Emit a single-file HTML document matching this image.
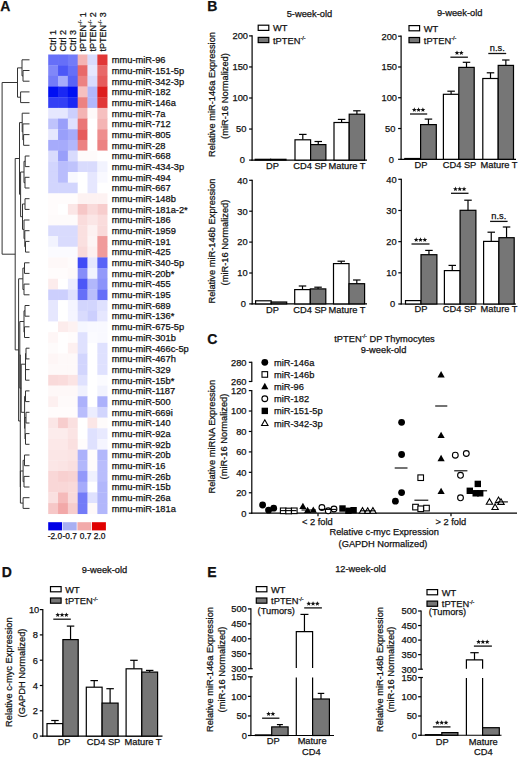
<!DOCTYPE html>
<html><head><meta charset="utf-8"><style>
html,body{margin:0;padding:0;background:#fff;}
body{width:520px;height:757px;overflow:hidden;}
svg{display:block;}
text{font-family:"Liberation Sans",sans-serif;fill:#111;stroke:#111;stroke-width:0.25px;}
</style></head><body>
<svg width="520" height="757" viewBox="0 0 520 757">
<rect width="520" height="757" fill="#fff"/>
<text x="0.20" y="10.80" font-size="14" text-anchor="start" font-weight="bold">A</text>
<text x="207.20" y="10.80" font-size="14" text-anchor="start" font-weight="bold">B</text>
<text x="207.20" y="343.80" font-size="14" text-anchor="start" font-weight="bold">C</text>
<text x="1.80" y="577.30" font-size="14" text-anchor="start" font-weight="bold">D</text>
<text x="207.20" y="577.00" font-size="14" text-anchor="start" font-weight="bold">E</text>
<rect x="48.20" y="54.50" width="10.13" height="10.98" fill="#666ff8"/>
<rect x="58.03" y="54.50" width="10.13" height="10.98" fill="#666ff8"/>
<rect x="67.86" y="54.50" width="10.13" height="10.98" fill="#737bf8"/>
<rect x="77.69" y="54.50" width="10.13" height="10.98" fill="#f4b4b4"/>
<rect x="87.52" y="54.50" width="10.13" height="10.98" fill="#d9dbfd"/>
<rect x="97.35" y="54.50" width="10.13" height="10.98" fill="#e13737"/>
<rect x="48.20" y="65.18" width="10.13" height="10.98" fill="#8087f9"/>
<rect x="58.03" y="65.18" width="10.13" height="10.98" fill="#4c57f7"/>
<rect x="67.86" y="65.18" width="10.13" height="10.98" fill="#666ff8"/>
<rect x="77.69" y="65.18" width="10.13" height="10.98" fill="#e86969"/>
<rect x="87.52" y="65.18" width="10.13" height="10.98" fill="#e6e7fe"/>
<rect x="97.35" y="65.18" width="10.13" height="10.98" fill="#e86969"/>
<rect x="48.20" y="75.86" width="10.13" height="10.98" fill="#737bf8"/>
<rect x="58.03" y="75.86" width="10.13" height="10.98" fill="#a6abfb"/>
<rect x="67.86" y="75.86" width="10.13" height="10.98" fill="#5963f7"/>
<rect x="77.69" y="75.86" width="10.13" height="10.98" fill="#ec8282"/>
<rect x="87.52" y="75.86" width="10.13" height="10.98" fill="#d9dbfd"/>
<rect x="97.35" y="75.86" width="10.13" height="10.98" fill="#e65c5c"/>
<rect x="48.20" y="86.54" width="10.13" height="10.98" fill="#000ff3"/>
<rect x="58.03" y="86.54" width="10.13" height="10.98" fill="#1a27f4"/>
<rect x="67.86" y="86.54" width="10.13" height="10.98" fill="#000ff3"/>
<rect x="77.69" y="86.54" width="10.13" height="10.98" fill="#f6c0c0"/>
<rect x="87.52" y="86.54" width="10.13" height="10.98" fill="#b2b7fb"/>
<rect x="97.35" y="86.54" width="10.13" height="10.98" fill="#dd1e1e"/>
<rect x="48.20" y="97.22" width="10.13" height="10.98" fill="#333ff5"/>
<rect x="58.03" y="97.22" width="10.13" height="10.98" fill="#333ff5"/>
<rect x="67.86" y="97.22" width="10.13" height="10.98" fill="#1a27f4"/>
<rect x="77.69" y="97.22" width="10.13" height="10.98" fill="#ec8282"/>
<rect x="87.52" y="97.22" width="10.13" height="10.98" fill="#b2b7fb"/>
<rect x="97.35" y="97.22" width="10.13" height="10.98" fill="#e13737"/>
<rect x="48.20" y="107.90" width="10.13" height="10.98" fill="#e6e7fe"/>
<rect x="58.03" y="107.90" width="10.13" height="10.98" fill="#e6e7fe"/>
<rect x="67.86" y="107.90" width="10.13" height="10.98" fill="#cccffd"/>
<rect x="77.69" y="107.90" width="10.13" height="10.98" fill="#f4b4b4"/>
<rect x="87.52" y="107.90" width="10.13" height="10.98" fill="#fef9f9"/>
<rect x="97.35" y="107.90" width="10.13" height="10.98" fill="#f6c0c0"/>
<rect x="48.20" y="118.58" width="10.13" height="10.98" fill="#bfc3fc"/>
<rect x="58.03" y="118.58" width="10.13" height="10.98" fill="#999ffa"/>
<rect x="67.86" y="118.58" width="10.13" height="10.98" fill="#dfe1fe"/>
<rect x="77.69" y="118.58" width="10.13" height="10.98" fill="#ea7676"/>
<rect x="87.52" y="118.58" width="10.13" height="10.98" fill="#ffffff"/>
<rect x="97.35" y="118.58" width="10.13" height="10.98" fill="#f4b4b4"/>
<rect x="48.20" y="129.26" width="10.13" height="10.98" fill="#e6e7fe"/>
<rect x="58.03" y="129.26" width="10.13" height="10.98" fill="#999ffa"/>
<rect x="67.86" y="129.26" width="10.13" height="10.98" fill="#a6abfb"/>
<rect x="77.69" y="129.26" width="10.13" height="10.98" fill="#e65c5c"/>
<rect x="87.52" y="129.26" width="10.13" height="10.98" fill="#ffffff"/>
<rect x="97.35" y="129.26" width="10.13" height="10.98" fill="#ee8e8e"/>
<rect x="48.20" y="139.94" width="10.13" height="10.98" fill="#a6abfb"/>
<rect x="58.03" y="139.94" width="10.13" height="10.98" fill="#a6abfb"/>
<rect x="67.86" y="139.94" width="10.13" height="10.98" fill="#b2b7fb"/>
<rect x="77.69" y="139.94" width="10.13" height="10.98" fill="#ec8282"/>
<rect x="87.52" y="139.94" width="10.13" height="10.98" fill="#ffffff"/>
<rect x="97.35" y="139.94" width="10.13" height="10.98" fill="#ec8282"/>
<rect x="48.20" y="150.62" width="10.13" height="10.98" fill="#d9dbfd"/>
<rect x="58.03" y="150.62" width="10.13" height="10.98" fill="#999ffa"/>
<rect x="67.86" y="150.62" width="10.13" height="10.98" fill="#d9dbfd"/>
<rect x="77.69" y="150.62" width="10.13" height="10.98" fill="#fefbfb"/>
<rect x="87.52" y="150.62" width="10.13" height="10.98" fill="#fefbfb"/>
<rect x="97.35" y="150.62" width="10.13" height="10.98" fill="#ffffff"/>
<rect x="48.20" y="161.30" width="10.13" height="10.98" fill="#d2d5fd"/>
<rect x="58.03" y="161.30" width="10.13" height="10.98" fill="#b9bdfc"/>
<rect x="67.86" y="161.30" width="10.13" height="10.98" fill="#bfc3fc"/>
<rect x="77.69" y="161.30" width="10.13" height="10.98" fill="#d9dbfd"/>
<rect x="87.52" y="161.30" width="10.13" height="10.98" fill="#d9dbfd"/>
<rect x="97.35" y="161.30" width="10.13" height="10.98" fill="#f2f3fe"/>
<rect x="48.20" y="171.98" width="10.13" height="10.98" fill="#d2d5fd"/>
<rect x="58.03" y="171.98" width="10.13" height="10.98" fill="#b9bdfc"/>
<rect x="67.86" y="171.98" width="10.13" height="10.98" fill="#f9f9ff"/>
<rect x="77.69" y="171.98" width="10.13" height="10.98" fill="#ffffff"/>
<rect x="87.52" y="171.98" width="10.13" height="10.98" fill="#e6e7fe"/>
<rect x="97.35" y="171.98" width="10.13" height="10.98" fill="#f9f9ff"/>
<rect x="48.20" y="182.66" width="10.13" height="10.98" fill="#d2d5fd"/>
<rect x="58.03" y="182.66" width="10.13" height="10.98" fill="#d2d5fd"/>
<rect x="67.86" y="182.66" width="10.13" height="10.98" fill="#d2d5fd"/>
<rect x="77.69" y="182.66" width="10.13" height="10.98" fill="#ffffff"/>
<rect x="87.52" y="182.66" width="10.13" height="10.98" fill="#e6e7fe"/>
<rect x="97.35" y="182.66" width="10.13" height="10.98" fill="#ffffff"/>
<rect x="48.20" y="193.34" width="10.13" height="10.98" fill="#fffcfc"/>
<rect x="58.03" y="193.34" width="10.13" height="10.98" fill="#fffcfc"/>
<rect x="67.86" y="193.34" width="10.13" height="10.98" fill="#fffcfc"/>
<rect x="77.69" y="193.34" width="10.13" height="10.98" fill="#fdf2f2"/>
<rect x="87.52" y="193.34" width="10.13" height="10.98" fill="#fdf2f2"/>
<rect x="97.35" y="193.34" width="10.13" height="10.98" fill="#fdf2f2"/>
<rect x="48.20" y="204.02" width="10.13" height="10.98" fill="#fffcfc"/>
<rect x="58.03" y="204.02" width="10.13" height="10.98" fill="#ffffff"/>
<rect x="67.86" y="204.02" width="10.13" height="10.98" fill="#fbe6e6"/>
<rect x="77.69" y="204.02" width="10.13" height="10.98" fill="#f6c7c7"/>
<rect x="87.52" y="204.02" width="10.13" height="10.98" fill="#f9dada"/>
<rect x="97.35" y="204.02" width="10.13" height="10.98" fill="#f7cdcd"/>
<rect x="48.20" y="214.70" width="10.13" height="10.98" fill="#fefbfb"/>
<rect x="58.03" y="214.70" width="10.13" height="10.98" fill="#fefbfb"/>
<rect x="67.86" y="214.70" width="10.13" height="10.98" fill="#fefbfb"/>
<rect x="77.69" y="214.70" width="10.13" height="10.98" fill="#fadcdc"/>
<rect x="87.52" y="214.70" width="10.13" height="10.98" fill="#fbe6e6"/>
<rect x="97.35" y="214.70" width="10.13" height="10.98" fill="#fadcdc"/>
<rect x="48.20" y="225.38" width="10.13" height="10.98" fill="#d9dbfd"/>
<rect x="58.03" y="225.38" width="10.13" height="10.98" fill="#d9dbfd"/>
<rect x="67.86" y="225.38" width="10.13" height="10.98" fill="#d9dbfd"/>
<rect x="77.69" y="225.38" width="10.13" height="10.98" fill="#fae0e0"/>
<rect x="87.52" y="225.38" width="10.13" height="10.98" fill="#fdf2f2"/>
<rect x="97.35" y="225.38" width="10.13" height="10.98" fill="#f9dada"/>
<rect x="48.20" y="236.06" width="10.13" height="10.98" fill="#f2f3fe"/>
<rect x="58.03" y="236.06" width="10.13" height="10.98" fill="#d9dbfd"/>
<rect x="67.86" y="236.06" width="10.13" height="10.98" fill="#d9dbfd"/>
<rect x="77.69" y="236.06" width="10.13" height="10.98" fill="#fae0e0"/>
<rect x="87.52" y="236.06" width="10.13" height="10.98" fill="#fdf5f5"/>
<rect x="97.35" y="236.06" width="10.13" height="10.98" fill="#f09b9b"/>
<rect x="48.20" y="246.74" width="10.13" height="10.98" fill="#fbfbff"/>
<rect x="58.03" y="246.74" width="10.13" height="10.98" fill="#fbfbff"/>
<rect x="67.86" y="246.74" width="10.13" height="10.98" fill="#fbfbff"/>
<rect x="77.69" y="246.74" width="10.13" height="10.98" fill="#f9dada"/>
<rect x="87.52" y="246.74" width="10.13" height="10.98" fill="#fdf0f0"/>
<rect x="97.35" y="246.74" width="10.13" height="10.98" fill="#f09b9b"/>
<rect x="48.20" y="257.42" width="10.13" height="10.98" fill="#fef8f8"/>
<rect x="58.03" y="257.42" width="10.13" height="10.98" fill="#fef8f8"/>
<rect x="67.86" y="257.42" width="10.13" height="10.98" fill="#fefbfb"/>
<rect x="77.69" y="257.42" width="10.13" height="10.98" fill="#404bf6"/>
<rect x="87.52" y="257.42" width="10.13" height="10.98" fill="#e6e7fe"/>
<rect x="97.35" y="257.42" width="10.13" height="10.98" fill="#5963f7"/>
<rect x="48.20" y="268.10" width="10.13" height="10.98" fill="#fffcfc"/>
<rect x="58.03" y="268.10" width="10.13" height="10.98" fill="#fffcfc"/>
<rect x="67.86" y="268.10" width="10.13" height="10.98" fill="#fef9f9"/>
<rect x="77.69" y="268.10" width="10.13" height="10.98" fill="#868df9"/>
<rect x="87.52" y="268.10" width="10.13" height="10.98" fill="#f2f3fe"/>
<rect x="97.35" y="268.10" width="10.13" height="10.98" fill="#9399fa"/>
<rect x="48.20" y="278.78" width="10.13" height="10.98" fill="#fcecec"/>
<rect x="58.03" y="278.78" width="10.13" height="10.98" fill="#ffffff"/>
<rect x="67.86" y="278.78" width="10.13" height="10.98" fill="#ecedfe"/>
<rect x="77.69" y="278.78" width="10.13" height="10.98" fill="#4c57f7"/>
<rect x="87.52" y="278.78" width="10.13" height="10.98" fill="#b2b7fb"/>
<rect x="97.35" y="278.78" width="10.13" height="10.98" fill="#8c93fa"/>
<rect x="48.20" y="289.46" width="10.13" height="10.98" fill="#cccffd"/>
<rect x="58.03" y="289.46" width="10.13" height="10.98" fill="#cccffd"/>
<rect x="67.86" y="289.46" width="10.13" height="10.98" fill="#dfe1fe"/>
<rect x="77.69" y="289.46" width="10.13" height="10.98" fill="#666ff8"/>
<rect x="87.52" y="289.46" width="10.13" height="10.98" fill="#b9bdfc"/>
<rect x="97.35" y="289.46" width="10.13" height="10.98" fill="#666ff8"/>
<rect x="48.20" y="300.14" width="10.13" height="10.98" fill="#e6e7fe"/>
<rect x="58.03" y="300.14" width="10.13" height="10.98" fill="#ffffff"/>
<rect x="67.86" y="300.14" width="10.13" height="10.98" fill="#f5f5ff"/>
<rect x="77.69" y="300.14" width="10.13" height="10.98" fill="#d2d5fd"/>
<rect x="87.52" y="300.14" width="10.13" height="10.98" fill="#d2d5fd"/>
<rect x="97.35" y="300.14" width="10.13" height="10.98" fill="#dfe1fe"/>
<rect x="48.20" y="310.82" width="10.13" height="10.98" fill="#e6e7fe"/>
<rect x="58.03" y="310.82" width="10.13" height="10.98" fill="#ffffff"/>
<rect x="67.86" y="310.82" width="10.13" height="10.98" fill="#f5f5ff"/>
<rect x="77.69" y="310.82" width="10.13" height="10.98" fill="#d9dbfd"/>
<rect x="87.52" y="310.82" width="10.13" height="10.98" fill="#cccffd"/>
<rect x="97.35" y="310.82" width="10.13" height="10.98" fill="#e6e7fe"/>
<rect x="48.20" y="321.50" width="10.13" height="10.98" fill="#ffffff"/>
<rect x="58.03" y="321.50" width="10.13" height="10.98" fill="#fcecec"/>
<rect x="67.86" y="321.50" width="10.13" height="10.98" fill="#fdf2f2"/>
<rect x="77.69" y="321.50" width="10.13" height="10.98" fill="#f6f7ff"/>
<rect x="87.52" y="321.50" width="10.13" height="10.98" fill="#f9f9ff"/>
<rect x="97.35" y="321.50" width="10.13" height="10.98" fill="#f9f9ff"/>
<rect x="48.20" y="332.18" width="10.13" height="10.98" fill="#fef6f6"/>
<rect x="58.03" y="332.18" width="10.13" height="10.98" fill="#fffefe"/>
<rect x="67.86" y="332.18" width="10.13" height="10.98" fill="#fffcfc"/>
<rect x="77.69" y="332.18" width="10.13" height="10.98" fill="#dfe1fe"/>
<rect x="87.52" y="332.18" width="10.13" height="10.98" fill="#fbfbff"/>
<rect x="97.35" y="332.18" width="10.13" height="10.98" fill="#f9f9ff"/>
<rect x="48.20" y="342.86" width="10.13" height="10.98" fill="#fefbfb"/>
<rect x="58.03" y="342.86" width="10.13" height="10.98" fill="#fffefe"/>
<rect x="67.86" y="342.86" width="10.13" height="10.98" fill="#fdf0f0"/>
<rect x="77.69" y="342.86" width="10.13" height="10.98" fill="#dfe1fe"/>
<rect x="87.52" y="342.86" width="10.13" height="10.98" fill="#ffffff"/>
<rect x="97.35" y="342.86" width="10.13" height="10.98" fill="#dfe1fe"/>
<rect x="48.20" y="353.54" width="10.13" height="10.98" fill="#fef6f6"/>
<rect x="58.03" y="353.54" width="10.13" height="10.98" fill="#fef9f9"/>
<rect x="67.86" y="353.54" width="10.13" height="10.98" fill="#fef9f9"/>
<rect x="77.69" y="353.54" width="10.13" height="10.98" fill="#d2d5fd"/>
<rect x="87.52" y="353.54" width="10.13" height="10.98" fill="#ffffff"/>
<rect x="97.35" y="353.54" width="10.13" height="10.98" fill="#dfe1fe"/>
<rect x="48.20" y="364.22" width="10.13" height="10.98" fill="#fef9f9"/>
<rect x="58.03" y="364.22" width="10.13" height="10.98" fill="#fef9f9"/>
<rect x="67.86" y="364.22" width="10.13" height="10.98" fill="#fef9f9"/>
<rect x="77.69" y="364.22" width="10.13" height="10.98" fill="#d2d5fd"/>
<rect x="87.52" y="364.22" width="10.13" height="10.98" fill="#ffffff"/>
<rect x="97.35" y="364.22" width="10.13" height="10.98" fill="#dfe1fe"/>
<rect x="48.20" y="374.90" width="10.13" height="10.98" fill="#f9dada"/>
<rect x="58.03" y="374.90" width="10.13" height="10.98" fill="#fadcdc"/>
<rect x="67.86" y="374.90" width="10.13" height="10.98" fill="#fbe4e4"/>
<rect x="77.69" y="374.90" width="10.13" height="10.98" fill="#dfe1fe"/>
<rect x="87.52" y="374.90" width="10.13" height="10.98" fill="#ffffff"/>
<rect x="97.35" y="374.90" width="10.13" height="10.98" fill="#fbfbff"/>
<rect x="48.20" y="385.58" width="10.13" height="10.98" fill="#fef8f8"/>
<rect x="58.03" y="385.58" width="10.13" height="10.98" fill="#fef8f8"/>
<rect x="67.86" y="385.58" width="10.13" height="10.98" fill="#fef8f8"/>
<rect x="77.69" y="385.58" width="10.13" height="10.98" fill="#f0f1fe"/>
<rect x="87.52" y="385.58" width="10.13" height="10.98" fill="#ffffff"/>
<rect x="97.35" y="385.58" width="10.13" height="10.98" fill="#f2f3fe"/>
<rect x="48.20" y="396.26" width="10.13" height="10.98" fill="#fdf0f0"/>
<rect x="58.03" y="396.26" width="10.13" height="10.98" fill="#fefafa"/>
<rect x="67.86" y="396.26" width="10.13" height="10.98" fill="#fefafa"/>
<rect x="77.69" y="396.26" width="10.13" height="10.98" fill="#acb1fb"/>
<rect x="87.52" y="396.26" width="10.13" height="10.98" fill="#ffffff"/>
<rect x="97.35" y="396.26" width="10.13" height="10.98" fill="#acb1fb"/>
<rect x="48.20" y="406.94" width="10.13" height="10.98" fill="#fffcfc"/>
<rect x="58.03" y="406.94" width="10.13" height="10.98" fill="#fffcfc"/>
<rect x="67.86" y="406.94" width="10.13" height="10.98" fill="#fffcfc"/>
<rect x="77.69" y="406.94" width="10.13" height="10.98" fill="#b9bdfc"/>
<rect x="87.52" y="406.94" width="10.13" height="10.98" fill="#ecedfe"/>
<rect x="97.35" y="406.94" width="10.13" height="10.98" fill="#d2d5fd"/>
<rect x="48.20" y="417.62" width="10.13" height="10.98" fill="#fbe6e6"/>
<rect x="58.03" y="417.62" width="10.13" height="10.98" fill="#f7cdcd"/>
<rect x="67.86" y="417.62" width="10.13" height="10.98" fill="#fae0e0"/>
<rect x="77.69" y="417.62" width="10.13" height="10.98" fill="#ffffff"/>
<rect x="87.52" y="417.62" width="10.13" height="10.98" fill="#fbe6e6"/>
<rect x="97.35" y="417.62" width="10.13" height="10.98" fill="#fefbfb"/>
<rect x="48.20" y="428.30" width="10.13" height="10.98" fill="#fcecec"/>
<rect x="58.03" y="428.30" width="10.13" height="10.98" fill="#fcecec"/>
<rect x="67.86" y="428.30" width="10.13" height="10.98" fill="#fbe4e4"/>
<rect x="77.69" y="428.30" width="10.13" height="10.98" fill="#ffffff"/>
<rect x="87.52" y="428.30" width="10.13" height="10.98" fill="#dfe1fe"/>
<rect x="97.35" y="428.30" width="10.13" height="10.98" fill="#e8e9fe"/>
<rect x="48.20" y="438.98" width="10.13" height="10.98" fill="#fce8e8"/>
<rect x="58.03" y="438.98" width="10.13" height="10.98" fill="#fce8e8"/>
<rect x="67.86" y="438.98" width="10.13" height="10.98" fill="#fae0e0"/>
<rect x="77.69" y="438.98" width="10.13" height="10.98" fill="#fffcfc"/>
<rect x="87.52" y="438.98" width="10.13" height="10.98" fill="#dfe1fe"/>
<rect x="97.35" y="438.98" width="10.13" height="10.98" fill="#f5f5ff"/>
<rect x="48.20" y="449.66" width="10.13" height="10.98" fill="#fbe6e6"/>
<rect x="58.03" y="449.66" width="10.13" height="10.98" fill="#fbe6e6"/>
<rect x="67.86" y="449.66" width="10.13" height="10.98" fill="#fbe4e4"/>
<rect x="77.69" y="449.66" width="10.13" height="10.98" fill="#acb1fb"/>
<rect x="87.52" y="449.66" width="10.13" height="10.98" fill="#fffcfc"/>
<rect x="97.35" y="449.66" width="10.13" height="10.98" fill="#b2b7fb"/>
<rect x="48.20" y="460.34" width="10.13" height="10.98" fill="#fbe6e6"/>
<rect x="58.03" y="460.34" width="10.13" height="10.98" fill="#fbe4e4"/>
<rect x="67.86" y="460.34" width="10.13" height="10.98" fill="#fae0e0"/>
<rect x="77.69" y="460.34" width="10.13" height="10.98" fill="#b2b7fb"/>
<rect x="87.52" y="460.34" width="10.13" height="10.98" fill="#fefbfb"/>
<rect x="97.35" y="460.34" width="10.13" height="10.98" fill="#b9bdfc"/>
<rect x="48.20" y="471.02" width="10.13" height="10.98" fill="#f9d7d7"/>
<rect x="58.03" y="471.02" width="10.13" height="10.98" fill="#f8d0d0"/>
<rect x="67.86" y="471.02" width="10.13" height="10.98" fill="#f8d3d3"/>
<rect x="77.69" y="471.02" width="10.13" height="10.98" fill="#9399fa"/>
<rect x="87.52" y="471.02" width="10.13" height="10.98" fill="#f0f1fe"/>
<rect x="97.35" y="471.02" width="10.13" height="10.98" fill="#b9bdfc"/>
<rect x="48.20" y="481.70" width="10.13" height="10.98" fill="#f9d7d7"/>
<rect x="58.03" y="481.70" width="10.13" height="10.98" fill="#f9d7d7"/>
<rect x="67.86" y="481.70" width="10.13" height="10.98" fill="#f9dada"/>
<rect x="77.69" y="481.70" width="10.13" height="10.98" fill="#a6abfb"/>
<rect x="87.52" y="481.70" width="10.13" height="10.98" fill="#ffffff"/>
<rect x="97.35" y="481.70" width="10.13" height="10.98" fill="#b2b7fb"/>
<rect x="48.20" y="492.38" width="10.13" height="10.98" fill="#fae0e0"/>
<rect x="58.03" y="492.38" width="10.13" height="10.98" fill="#f5baba"/>
<rect x="67.86" y="492.38" width="10.13" height="10.98" fill="#f9dada"/>
<rect x="77.69" y="492.38" width="10.13" height="10.98" fill="#737bf8"/>
<rect x="87.52" y="492.38" width="10.13" height="10.98" fill="#dfe1fe"/>
<rect x="97.35" y="492.38" width="10.13" height="10.98" fill="#b2b7fb"/>
<rect x="48.20" y="503.06" width="10.13" height="10.98" fill="#f6c7c7"/>
<rect x="58.03" y="503.06" width="10.13" height="10.98" fill="#f2a8a8"/>
<rect x="67.86" y="503.06" width="10.13" height="10.98" fill="#f7cdcd"/>
<rect x="77.69" y="503.06" width="10.13" height="10.98" fill="#737bf8"/>
<rect x="87.52" y="503.06" width="10.13" height="10.98" fill="#fef9f9"/>
<rect x="97.35" y="503.06" width="10.13" height="10.98" fill="#b2b7fb"/>
<text x="111.80" y="63.14" font-size="9.3" text-anchor="start">mmu-miR-96</text>
<text x="111.80" y="73.82" font-size="9.3" text-anchor="start">mmu-miR-151-5p</text>
<text x="111.80" y="84.50" font-size="9.3" text-anchor="start">mmu-miR-342-3p</text>
<text x="111.80" y="95.18" font-size="9.3" text-anchor="start">mmu-miR-182</text>
<text x="111.80" y="105.86" font-size="9.3" text-anchor="start">mmu-miR-146a</text>
<text x="111.80" y="116.54" font-size="9.3" text-anchor="start">mmu-miR-7a</text>
<text x="111.80" y="127.22" font-size="9.3" text-anchor="start">mmu-miR-712</text>
<text x="111.80" y="137.90" font-size="9.3" text-anchor="start">mmu-miR-805</text>
<text x="111.80" y="148.58" font-size="9.3" text-anchor="start">mmu-miR-28</text>
<text x="111.80" y="159.26" font-size="9.3" text-anchor="start">mmu-miR-668</text>
<text x="111.80" y="169.94" font-size="9.3" text-anchor="start">mmu-miR-434-3p</text>
<text x="111.80" y="180.62" font-size="9.3" text-anchor="start">mmu-miR-494</text>
<text x="111.80" y="191.30" font-size="9.3" text-anchor="start">mmu-miR-667</text>
<text x="111.80" y="201.98" font-size="9.3" text-anchor="start">mmu-miR-148b</text>
<text x="111.80" y="212.66" font-size="9.3" text-anchor="start">mmu-miR-181a-2*</text>
<text x="111.80" y="223.34" font-size="9.3" text-anchor="start">mmu-miR-186</text>
<text x="111.80" y="234.02" font-size="9.3" text-anchor="start">mmu-miR-1959</text>
<text x="111.80" y="244.70" font-size="9.3" text-anchor="start">mmu-miR-191</text>
<text x="111.80" y="255.38" font-size="9.3" text-anchor="start">mmu-miR-425</text>
<text x="111.80" y="266.06" font-size="9.3" text-anchor="start">mmu-miR-340-5p</text>
<text x="111.80" y="276.74" font-size="9.3" text-anchor="start">mmu-miR-20b*</text>
<text x="111.80" y="287.42" font-size="9.3" text-anchor="start">mmu-miR-455</text>
<text x="111.80" y="298.10" font-size="9.3" text-anchor="start">mmu-miR-195</text>
<text x="111.80" y="308.78" font-size="9.3" text-anchor="start">mmu-miR-689</text>
<text x="111.80" y="319.46" font-size="9.3" text-anchor="start">mmu-miR-136*</text>
<text x="111.80" y="330.14" font-size="9.3" text-anchor="start">mmu-miR-675-5p</text>
<text x="111.80" y="340.82" font-size="9.3" text-anchor="start">mmu-miR-301b</text>
<text x="111.80" y="351.50" font-size="9.3" text-anchor="start">mmu-miR-466c-5p</text>
<text x="111.80" y="362.18" font-size="9.3" text-anchor="start">mmu-miR-467h</text>
<text x="111.80" y="372.86" font-size="9.3" text-anchor="start">mmu-miR-329</text>
<text x="111.80" y="383.54" font-size="9.3" text-anchor="start">mmu-miR-15b*</text>
<text x="111.80" y="394.22" font-size="9.3" text-anchor="start">mmu-miR-1187</text>
<text x="111.80" y="404.90" font-size="9.3" text-anchor="start">mmu-miR-500</text>
<text x="111.80" y="415.58" font-size="9.3" text-anchor="start">mmu-miR-669i</text>
<text x="111.80" y="426.26" font-size="9.3" text-anchor="start">mmu-miR-140</text>
<text x="111.80" y="436.94" font-size="9.3" text-anchor="start">mmu-miR-92a</text>
<text x="111.80" y="447.62" font-size="9.3" text-anchor="start">mmu-miR-92b</text>
<text x="111.80" y="458.30" font-size="9.3" text-anchor="start">mmu-miR-20b</text>
<text x="111.80" y="468.98" font-size="9.3" text-anchor="start">mmu-miR-16</text>
<text x="111.80" y="479.66" font-size="9.3" text-anchor="start">mmu-miR-26b</text>
<text x="111.80" y="490.34" font-size="9.3" text-anchor="start">mmu-miR-15b</text>
<text x="111.80" y="501.02" font-size="9.3" text-anchor="start">mmu-miR-26a</text>
<text x="111.80" y="511.70" font-size="9.3" text-anchor="start">mmu-miR-181a</text>
<text transform="translate(56.41,51.5) rotate(-90)" font-size="9">Ctrl 1</text>
<text transform="translate(66.25,51.5) rotate(-90)" font-size="9">Ctrl 2</text>
<text transform="translate(76.08,51.5) rotate(-90)" font-size="9">Ctrl 3</text>
<text transform="translate(85.91,51.5) rotate(-90)" font-size="9">tPTEN<tspan font-size="5.5" dy="-3.5">-/-</tspan><tspan dy="3.5"> 1</tspan></text>
<text transform="translate(95.74,51.5) rotate(-90)" font-size="9">tPTEN<tspan font-size="5.5" dy="-3.5">-/-</tspan><tspan dy="3.5"> 2</tspan></text>
<text transform="translate(105.56,51.5) rotate(-90)" font-size="9">tPTEN<tspan font-size="5.5" dy="-3.5">-/-</tspan><tspan dy="3.5"> 3</tspan></text>
<rect x="48.20" y="522.2" width="13.9" height="8.2" fill="#0000e6"/>
<rect x="62.80" y="522.2" width="13.9" height="8.2" fill="#a8aff2"/>
<rect x="77.40" y="522.2" width="13.9" height="8.2" fill="#f2aaaa"/>
<rect x="92.00" y="522.2" width="13.9" height="8.2" fill="#e00000"/>
<text x="54.90" y="539.20" font-size="8.4" text-anchor="middle">-2.0</text>
<text x="69.80" y="539.20" font-size="8.4" text-anchor="middle">-0.7</text>
<text x="85.60" y="539.20" font-size="8.4" text-anchor="middle">0.7</text>
<text x="99.60" y="539.20" font-size="8.4" text-anchor="middle">2.0</text>
<path d="M23.0 70.5L29.5 70.5 M23.0 81.2L29.5 81.2 M23.0 70.5L23.0 81.2 M22.0 59.8L29.5 59.8 M22.0 75.9L23.0 75.9 M22.0 59.8L22.0 75.9 M20.6 91.9L29.5 91.9 M20.6 102.6L29.5 102.6 M20.6 91.9L20.6 102.6 M17.5 67.9L22.0 67.9 M17.5 97.2L20.6 97.2 M17.5 67.9L17.5 97.2 M23.6 134.6L29.5 134.6 M23.6 145.3L29.5 145.3 M23.6 134.6L23.6 145.3 M22.9 123.9L29.5 123.9 M22.9 139.9L23.6 139.9 M22.9 123.9L22.9 139.9 M22.2 113.2L29.5 113.2 M22.2 131.9L22.9 131.9 M22.2 113.2L22.2 131.9 M25.2 156.0L29.5 156.0 M25.2 166.6L29.5 166.6 M25.2 156.0L25.2 166.6 M25.0 177.3L29.5 177.3 M25.0 188.0L29.5 188.0 M25.0 177.3L25.0 188.0 M24.0 161.3L25.2 161.3 M24.0 182.7L25.0 182.7 M24.0 161.3L24.0 182.7 M25.0 198.7L29.5 198.7 M25.0 209.4L29.5 209.4 M25.0 198.7L25.0 209.4 M25.5 241.4L29.5 241.4 M25.5 252.1L29.5 252.1 M25.5 241.4L25.5 252.1 M24.8 230.7L29.5 230.7 M24.8 246.7L25.5 246.7 M24.8 230.7L24.8 246.7 M24.0 220.0L29.5 220.0 M24.0 238.7L24.8 238.7 M24.0 220.0L24.0 238.7 M22.5 204.0L25.0 204.0 M22.5 229.4L24.0 229.4 M22.5 204.0L22.5 229.4 M20.6 172.0L24.0 172.0 M20.6 216.7L22.5 216.7 M20.6 172.0L20.6 216.7 M19.5 122.6L22.2 122.6 M19.5 194.3L20.6 194.3 M19.5 122.6L19.5 194.3 M24.5 262.8L29.5 262.8 M24.5 273.4L29.5 273.4 M24.5 262.8L24.5 273.4 M24.0 284.1L29.5 284.1 M24.0 294.8L29.5 294.8 M24.0 284.1L24.0 294.8 M22.9 268.1L24.5 268.1 M22.9 289.5L24.0 289.5 M22.9 268.1L22.9 289.5 M25.0 305.5L29.5 305.5 M25.0 316.2L29.5 316.2 M25.0 305.5L25.0 316.2 M24.5 326.8L29.5 326.8 M24.5 337.5L29.5 337.5 M24.5 326.8L24.5 337.5 M24.0 310.8L25.0 310.8 M24.0 332.2L24.5 332.2 M24.0 310.8L24.0 332.2 M26.0 348.2L29.5 348.2 M26.0 358.9L29.5 358.9 M26.0 348.2L26.0 358.9 M25.5 369.6L29.5 369.6 M25.5 380.2L29.5 380.2 M25.5 369.6L25.5 380.2 M25.5 353.5L26.0 353.5 M25.5 374.9L25.5 374.9 M25.5 353.5L25.5 374.9 M25.5 390.9L29.5 390.9 M25.5 401.6L29.5 401.6 M25.5 390.9L25.5 401.6 M26.0 412.3L29.5 412.3 M26.0 423.0L29.5 423.0 M26.0 412.3L26.0 423.0 M25.5 433.6L29.5 433.6 M25.5 444.3L29.5 444.3 M25.5 433.6L25.5 444.3 M25.0 417.6L26.0 417.6 M25.0 439.0L25.5 439.0 M25.0 417.6L25.0 439.0 M24.6 396.3L25.5 396.3 M24.6 428.3L25.0 428.3 M24.6 396.3L24.6 428.3 M21.2 364.2L25.5 364.2 M21.2 412.3L24.6 412.3 M21.2 364.2L21.2 412.3 M19.8 321.5L24.0 321.5 M19.8 388.2L21.2 388.2 M19.8 321.5L19.8 388.2 M24.5 455.0L29.5 455.0 M24.5 465.7L29.5 465.7 M24.5 455.0L24.5 465.7 M24.0 476.4L29.5 476.4 M24.0 487.0L29.5 487.0 M24.0 476.4L24.0 487.0 M23.1 460.3L24.5 460.3 M23.1 481.7L24.0 481.7 M23.1 460.3L23.1 481.7 M23.1 497.7L29.5 497.7 M23.1 508.4L29.5 508.4 M23.1 497.7L23.1 508.4 M20.4 471.0L23.1 471.0 M20.4 503.1L23.1 503.1 M20.4 471.0L20.4 503.1 M20.3 354.9L19.8 354.9 M20.3 487.0L20.4 487.0 M20.3 354.9L20.3 487.0 M18.6 278.8L22.9 278.8 M18.6 421.0L20.3 421.0 M18.6 278.8L18.6 421.0 M15.2 158.5L19.5 158.5 M15.2 349.9L18.6 349.9 M15.2 158.5L15.2 349.9 M2.1 82.5L17.5 82.5 M2.1 254.2L15.2 254.2 M2.1 82.5L2.1 254.2" stroke="#333" stroke-width="1" fill="none"/>
<text x="309.40" y="16.50" font-size="9.3" text-anchor="middle">5-week-old</text>
<text x="459.70" y="16.20" font-size="9.3" text-anchor="middle">9-week-old</text>
<text transform="translate(214.60,94.50) rotate(-90)" font-size="9.3" text-anchor="middle">Relative miR-146a Expression</text>
<text transform="translate(227.80,96.00) rotate(-90)" font-size="9.3" text-anchor="middle">(miR-16 Normalized)</text>
<text transform="translate(214.60,241.00) rotate(-90)" font-size="9.3" text-anchor="middle">Relative miR-146b Expression</text>
<text transform="translate(227.80,242.50) rotate(-90)" font-size="9.3" text-anchor="middle">(miR-16 Normalized)</text>
<line x1="252.10" y1="35.30" x2="252.10" y2="160.70" stroke="#000" stroke-width="1.2"/>
<line x1="249.10" y1="35.90" x2="252.10" y2="35.90" stroke="#000" stroke-width="1.2"/>
<text x="248.00" y="39.20" font-size="9.3" text-anchor="end">200</text>
<line x1="249.10" y1="66.95" x2="252.10" y2="66.95" stroke="#000" stroke-width="1.2"/>
<text x="248.00" y="70.25" font-size="9.3" text-anchor="end">150</text>
<line x1="249.10" y1="98.00" x2="252.10" y2="98.00" stroke="#000" stroke-width="1.2"/>
<text x="248.00" y="101.30" font-size="9.3" text-anchor="end">100</text>
<line x1="249.10" y1="129.05" x2="252.10" y2="129.05" stroke="#000" stroke-width="1.2"/>
<text x="246.40" y="132.35" font-size="9.3" text-anchor="end">50</text>
<line x1="249.10" y1="160.10" x2="252.10" y2="160.10" stroke="#000" stroke-width="1.2"/>
<text x="244.80" y="163.40" font-size="9.3" text-anchor="end">0</text>
<line x1="251.50" y1="160.10" x2="367.00" y2="160.10" stroke="#000" stroke-width="1.2"/>
<rect x="255.20" y="159.30" width="15.40" height="0.80" fill="#fff" stroke="#000" stroke-width="1.2"/>
<rect x="270.60" y="159.30" width="15.40" height="0.80" fill="#767676" stroke="#000" stroke-width="1.2"/>
<line x1="302.80" y1="139.80" x2="302.80" y2="134.40" stroke="#000" stroke-width="1.2"/>
<line x1="299.05" y1="134.40" x2="306.55" y2="134.40" stroke="#000" stroke-width="1.2"/>
<rect x="295.00" y="139.80" width="15.60" height="20.30" fill="#fff" stroke="#000" stroke-width="1.2"/>
<line x1="318.25" y1="144.60" x2="318.25" y2="141.50" stroke="#000" stroke-width="1.2"/>
<line x1="314.50" y1="141.50" x2="322.00" y2="141.50" stroke="#000" stroke-width="1.2"/>
<rect x="310.60" y="144.60" width="15.30" height="15.50" fill="#767676" stroke="#000" stroke-width="1.2"/>
<line x1="341.60" y1="122.50" x2="341.60" y2="119.40" stroke="#000" stroke-width="1.2"/>
<line x1="337.85" y1="119.40" x2="345.35" y2="119.40" stroke="#000" stroke-width="1.2"/>
<rect x="334.00" y="122.50" width="15.20" height="37.60" fill="#fff" stroke="#000" stroke-width="1.2"/>
<line x1="356.90" y1="114.20" x2="356.90" y2="110.80" stroke="#000" stroke-width="1.2"/>
<line x1="353.15" y1="110.80" x2="360.65" y2="110.80" stroke="#000" stroke-width="1.2"/>
<rect x="349.20" y="114.20" width="15.40" height="45.90" fill="#767676" stroke="#000" stroke-width="1.2"/>
<text x="272.50" y="168.60" font-size="9.3" text-anchor="middle">DP</text>
<text x="310.00" y="168.60" font-size="9.3" text-anchor="middle">CD4 SP</text>
<text x="347.00" y="168.60" font-size="9.3" text-anchor="middle">Mature T</text>
<rect x="258.20" y="25.20" width="10.60" height="5.20" fill="#fff" stroke="#000" stroke-width="1.2"/>
<rect x="258.20" y="37.40" width="10.60" height="5.20" fill="#767676" stroke="#000" stroke-width="1.2"/>
<text x="273.00" y="31.30" font-size="9.3" text-anchor="start">WT</text>
<text x="273.00" y="43.50" font-size="9.3">tPTEN<tspan font-size="5.5" dy="-3.5">-/-</tspan></text>
<line x1="401.10" y1="35.60" x2="401.10" y2="159.90" stroke="#000" stroke-width="1.2"/>
<line x1="398.10" y1="36.20" x2="401.10" y2="36.20" stroke="#000" stroke-width="1.2"/>
<text x="397.00" y="39.50" font-size="9.3" text-anchor="end">200</text>
<line x1="398.10" y1="66.98" x2="401.10" y2="66.98" stroke="#000" stroke-width="1.2"/>
<text x="397.00" y="70.28" font-size="9.3" text-anchor="end">150</text>
<line x1="398.10" y1="97.75" x2="401.10" y2="97.75" stroke="#000" stroke-width="1.2"/>
<text x="397.00" y="101.05" font-size="9.3" text-anchor="end">100</text>
<line x1="398.10" y1="128.53" x2="401.10" y2="128.53" stroke="#000" stroke-width="1.2"/>
<text x="395.40" y="131.83" font-size="9.3" text-anchor="end">50</text>
<line x1="398.10" y1="159.30" x2="401.10" y2="159.30" stroke="#000" stroke-width="1.2"/>
<text x="393.80" y="162.60" font-size="9.3" text-anchor="end">0</text>
<line x1="400.50" y1="159.30" x2="516.00" y2="159.30" stroke="#000" stroke-width="1.2"/>
<rect x="404.80" y="158.50" width="15.80" height="0.80" fill="#fff" stroke="#000" stroke-width="1.2"/>
<line x1="428.45" y1="124.60" x2="428.45" y2="119.10" stroke="#000" stroke-width="1.2"/>
<line x1="424.70" y1="119.10" x2="432.20" y2="119.10" stroke="#000" stroke-width="1.2"/>
<rect x="420.60" y="124.60" width="15.70" height="34.70" fill="#767676" stroke="#000" stroke-width="1.2"/>
<line x1="451.10" y1="94.30" x2="451.10" y2="91.20" stroke="#000" stroke-width="1.2"/>
<line x1="447.35" y1="91.20" x2="454.85" y2="91.20" stroke="#000" stroke-width="1.2"/>
<rect x="443.40" y="94.30" width="15.40" height="65.00" fill="#fff" stroke="#000" stroke-width="1.2"/>
<line x1="466.50" y1="67.40" x2="466.50" y2="62.30" stroke="#000" stroke-width="1.2"/>
<line x1="462.75" y1="62.30" x2="470.25" y2="62.30" stroke="#000" stroke-width="1.2"/>
<rect x="458.80" y="67.40" width="15.40" height="91.90" fill="#767676" stroke="#000" stroke-width="1.2"/>
<line x1="490.50" y1="78.50" x2="490.50" y2="72.80" stroke="#000" stroke-width="1.2"/>
<line x1="486.75" y1="72.80" x2="494.25" y2="72.80" stroke="#000" stroke-width="1.2"/>
<rect x="482.80" y="78.50" width="15.40" height="80.80" fill="#fff" stroke="#000" stroke-width="1.2"/>
<line x1="505.85" y1="65.40" x2="505.85" y2="60.00" stroke="#000" stroke-width="1.2"/>
<line x1="502.10" y1="60.00" x2="509.60" y2="60.00" stroke="#000" stroke-width="1.2"/>
<rect x="498.20" y="65.40" width="15.30" height="93.90" fill="#767676" stroke="#000" stroke-width="1.2"/>
<text x="421.00" y="168.40" font-size="9.3" text-anchor="middle">DP</text>
<text x="459.50" y="168.40" font-size="9.3" text-anchor="middle">CD4 SP</text>
<text x="499.00" y="168.40" font-size="9.3" text-anchor="middle">Mature T</text>
<rect x="409.00" y="25.60" width="10.60" height="5.20" fill="#fff" stroke="#000" stroke-width="1.2"/>
<rect x="409.00" y="37.50" width="10.60" height="5.20" fill="#767676" stroke="#000" stroke-width="1.2"/>
<text x="423.80" y="31.70" font-size="9.3" text-anchor="start">WT</text>
<text x="423.80" y="43.60" font-size="9.3">tPTEN<tspan font-size="5.5" dy="-3.5">-/-</tspan></text>
<line x1="410.00" y1="114.00" x2="427.20" y2="114.00" stroke="#111" stroke-width="1.3"/>
<polygon points="414.30,107.30 414.95,108.91 416.68,109.03 415.35,110.14 415.77,111.82 414.30,110.90 412.83,111.82 413.25,110.14 411.92,109.03 413.65,108.91" fill="#111"/>
<polygon points="418.60,107.30 419.25,108.91 420.98,109.03 419.65,110.14 420.07,111.82 418.60,110.90 417.13,111.82 417.55,110.14 416.22,109.03 417.95,108.91" fill="#111"/>
<polygon points="422.90,107.30 423.55,108.91 425.28,109.03 423.95,110.14 424.37,111.82 422.90,110.90 421.43,111.82 421.85,110.14 420.52,109.03 422.25,108.91" fill="#111"/>
<line x1="450.40" y1="57.20" x2="467.90" y2="57.20" stroke="#111" stroke-width="1.3"/>
<polygon points="457.00,50.50 457.65,52.11 459.38,52.23 458.05,53.34 458.47,55.02 457.00,54.10 455.53,55.02 455.95,53.34 454.62,52.23 456.35,52.11" fill="#111"/>
<polygon points="461.30,50.50 461.95,52.11 463.68,52.23 462.35,53.34 462.77,55.02 461.30,54.10 459.83,55.02 460.25,53.34 458.92,52.23 460.65,52.11" fill="#111"/>
<line x1="488.30" y1="53.50" x2="506.20" y2="53.50" stroke="#111" stroke-width="1.3"/>
<text x="497.25" y="51.30" font-size="9.3" text-anchor="middle">n.s.</text>
<line x1="252.20" y1="179.70" x2="252.20" y2="304.50" stroke="#000" stroke-width="1.2"/>
<line x1="249.20" y1="180.30" x2="252.20" y2="180.30" stroke="#000" stroke-width="1.2"/>
<text x="247.60" y="183.60" font-size="9.3" text-anchor="end">40</text>
<line x1="249.20" y1="211.20" x2="252.20" y2="211.20" stroke="#000" stroke-width="1.2"/>
<text x="247.60" y="214.50" font-size="9.3" text-anchor="end">30</text>
<line x1="249.20" y1="242.10" x2="252.20" y2="242.10" stroke="#000" stroke-width="1.2"/>
<text x="247.60" y="245.40" font-size="9.3" text-anchor="end">20</text>
<line x1="249.20" y1="273.00" x2="252.20" y2="273.00" stroke="#000" stroke-width="1.2"/>
<text x="247.60" y="276.30" font-size="9.3" text-anchor="end">10</text>
<line x1="249.20" y1="303.90" x2="252.20" y2="303.90" stroke="#000" stroke-width="1.2"/>
<text x="246.00" y="307.20" font-size="9.3" text-anchor="end">0</text>
<line x1="251.60" y1="303.90" x2="367.00" y2="303.90" stroke="#000" stroke-width="1.2"/>
<rect x="255.60" y="300.80" width="15.60" height="3.10" fill="#fff" stroke="#000" stroke-width="1.2"/>
<rect x="271.20" y="302.00" width="15.50" height="1.90" fill="#767676" stroke="#000" stroke-width="1.2"/>
<line x1="302.50" y1="289.60" x2="302.50" y2="286.00" stroke="#000" stroke-width="1.2"/>
<line x1="298.75" y1="286.00" x2="306.25" y2="286.00" stroke="#000" stroke-width="1.2"/>
<rect x="294.70" y="289.60" width="15.60" height="14.30" fill="#fff" stroke="#000" stroke-width="1.2"/>
<line x1="318.05" y1="288.90" x2="318.05" y2="287.20" stroke="#000" stroke-width="1.2"/>
<line x1="314.30" y1="287.20" x2="321.80" y2="287.20" stroke="#000" stroke-width="1.2"/>
<rect x="310.30" y="288.90" width="15.50" height="15.00" fill="#767676" stroke="#000" stroke-width="1.2"/>
<line x1="341.25" y1="263.60" x2="341.25" y2="261.20" stroke="#000" stroke-width="1.2"/>
<line x1="337.50" y1="261.20" x2="345.00" y2="261.20" stroke="#000" stroke-width="1.2"/>
<rect x="333.50" y="263.60" width="15.50" height="40.30" fill="#fff" stroke="#000" stroke-width="1.2"/>
<line x1="356.80" y1="283.70" x2="356.80" y2="280.00" stroke="#000" stroke-width="1.2"/>
<line x1="353.05" y1="280.00" x2="360.55" y2="280.00" stroke="#000" stroke-width="1.2"/>
<rect x="349.00" y="283.70" width="15.60" height="20.20" fill="#767676" stroke="#000" stroke-width="1.2"/>
<text x="272.50" y="312.60" font-size="9.3" text-anchor="middle">DP</text>
<text x="310.00" y="312.60" font-size="9.3" text-anchor="middle">CD4 SP</text>
<text x="347.00" y="312.60" font-size="9.3" text-anchor="middle">Mature T</text>
<line x1="401.30" y1="178.70" x2="401.30" y2="304.60" stroke="#000" stroke-width="1.2"/>
<line x1="398.30" y1="179.30" x2="401.30" y2="179.30" stroke="#000" stroke-width="1.2"/>
<text x="396.70" y="182.60" font-size="9.3" text-anchor="end">40</text>
<line x1="398.30" y1="210.48" x2="401.30" y2="210.48" stroke="#000" stroke-width="1.2"/>
<text x="396.70" y="213.78" font-size="9.3" text-anchor="end">30</text>
<line x1="398.30" y1="241.65" x2="401.30" y2="241.65" stroke="#000" stroke-width="1.2"/>
<text x="396.70" y="244.95" font-size="9.3" text-anchor="end">20</text>
<line x1="398.30" y1="272.82" x2="401.30" y2="272.82" stroke="#000" stroke-width="1.2"/>
<text x="396.70" y="276.12" font-size="9.3" text-anchor="end">10</text>
<line x1="398.30" y1="304.00" x2="401.30" y2="304.00" stroke="#000" stroke-width="1.2"/>
<text x="395.10" y="307.30" font-size="9.3" text-anchor="end">0</text>
<line x1="400.70" y1="304.00" x2="516.00" y2="304.00" stroke="#000" stroke-width="1.2"/>
<rect x="405.50" y="300.60" width="15.50" height="3.40" fill="#fff" stroke="#000" stroke-width="1.2"/>
<line x1="428.95" y1="254.70" x2="428.95" y2="250.40" stroke="#000" stroke-width="1.2"/>
<line x1="425.20" y1="250.40" x2="432.70" y2="250.40" stroke="#000" stroke-width="1.2"/>
<rect x="421.00" y="254.70" width="15.90" height="49.30" fill="#767676" stroke="#000" stroke-width="1.2"/>
<line x1="452.25" y1="270.60" x2="452.25" y2="265.40" stroke="#000" stroke-width="1.2"/>
<line x1="448.50" y1="265.40" x2="456.00" y2="265.40" stroke="#000" stroke-width="1.2"/>
<rect x="444.40" y="270.60" width="15.70" height="33.40" fill="#fff" stroke="#000" stroke-width="1.2"/>
<line x1="468.00" y1="210.30" x2="468.00" y2="200.20" stroke="#000" stroke-width="1.2"/>
<line x1="464.25" y1="200.20" x2="471.75" y2="200.20" stroke="#000" stroke-width="1.2"/>
<rect x="460.10" y="210.30" width="15.80" height="93.70" fill="#767676" stroke="#000" stroke-width="1.2"/>
<line x1="491.25" y1="241.40" x2="491.25" y2="232.20" stroke="#000" stroke-width="1.2"/>
<line x1="487.50" y1="232.20" x2="495.00" y2="232.20" stroke="#000" stroke-width="1.2"/>
<rect x="483.60" y="241.40" width="15.30" height="62.60" fill="#fff" stroke="#000" stroke-width="1.2"/>
<line x1="506.55" y1="237.70" x2="506.55" y2="227.00" stroke="#000" stroke-width="1.2"/>
<line x1="502.80" y1="227.00" x2="510.30" y2="227.00" stroke="#000" stroke-width="1.2"/>
<rect x="498.90" y="237.70" width="15.30" height="66.30" fill="#767676" stroke="#000" stroke-width="1.2"/>
<text x="421.00" y="312.20" font-size="9.3" text-anchor="middle">DP</text>
<text x="459.50" y="312.20" font-size="9.3" text-anchor="middle">CD4 SP</text>
<text x="499.00" y="312.20" font-size="9.3" text-anchor="middle">Mature T</text>
<line x1="411.50" y1="244.00" x2="429.50" y2="244.00" stroke="#111" stroke-width="1.3"/>
<polygon points="416.20,237.30 416.85,238.91 418.58,239.03 417.25,240.14 417.67,241.82 416.20,240.90 414.73,241.82 415.15,240.14 413.82,239.03 415.55,238.91" fill="#111"/>
<polygon points="420.50,237.30 421.15,238.91 422.88,239.03 421.55,240.14 421.97,241.82 420.50,240.90 419.03,241.82 419.45,240.14 418.12,239.03 419.85,238.91" fill="#111"/>
<polygon points="424.80,237.30 425.45,238.91 427.18,239.03 425.85,240.14 426.27,241.82 424.80,240.90 423.33,241.82 423.75,240.14 422.42,239.03 424.15,238.91" fill="#111"/>
<line x1="451.00" y1="193.30" x2="468.50" y2="193.30" stroke="#111" stroke-width="1.3"/>
<polygon points="455.45,186.60 456.10,188.21 457.83,188.33 456.50,189.44 456.92,191.12 455.45,190.20 453.98,191.12 454.40,189.44 453.07,188.33 454.80,188.21" fill="#111"/>
<polygon points="459.75,186.60 460.40,188.21 462.13,188.33 460.80,189.44 461.22,191.12 459.75,190.20 458.28,191.12 458.70,189.44 457.37,188.33 459.10,188.21" fill="#111"/>
<polygon points="464.05,186.60 464.70,188.21 466.43,188.33 465.10,189.44 465.52,191.12 464.05,190.20 462.58,191.12 463.00,189.44 461.67,188.33 463.40,188.21" fill="#111"/>
<line x1="490.10" y1="221.40" x2="507.60" y2="221.40" stroke="#111" stroke-width="1.3"/>
<text x="498.85" y="219.20" font-size="9.3" text-anchor="middle">n.s.</text>
<text x="384.50" y="341.90" font-size="9.3" text-anchor="middle">tPTEN<tspan font-size="5.5" dy="-3.5">-/-</tspan><tspan dy="3.5"> DP Thymocytes</tspan></text>
<text x="383.60" y="352.70" font-size="9.3" text-anchor="middle">9-week-old</text>
<text transform="translate(214.60,436.70) rotate(-90)" font-size="9.3" text-anchor="middle">Relative miRNA Expression</text>
<text transform="translate(227.40,436.50) rotate(-90)" font-size="9.3" text-anchor="middle">(miR-16 Normalized)</text>
<line x1="251.80" y1="361.70" x2="251.80" y2="382.10" stroke="#000" stroke-width="1.2"/>
<line x1="248.80" y1="362.30" x2="251.80" y2="362.30" stroke="#000" stroke-width="1.2"/>
<text x="246.50" y="365.60" font-size="9.3" text-anchor="end">280</text>
<line x1="248.80" y1="381.50" x2="251.80" y2="381.50" stroke="#000" stroke-width="1.2"/>
<text x="246.50" y="384.80" font-size="9.3" text-anchor="end">260</text>
<line x1="251.80" y1="390.00" x2="251.80" y2="513.80" stroke="#000" stroke-width="1.2"/>
<line x1="248.80" y1="390.60" x2="251.80" y2="390.60" stroke="#000" stroke-width="1.2"/>
<text x="246.50" y="393.90" font-size="9.3" text-anchor="end">120</text>
<line x1="248.80" y1="411.03" x2="251.80" y2="411.03" stroke="#000" stroke-width="1.2"/>
<text x="246.50" y="414.33" font-size="9.3" text-anchor="end">100</text>
<line x1="248.80" y1="431.47" x2="251.80" y2="431.47" stroke="#000" stroke-width="1.2"/>
<text x="246.50" y="434.77" font-size="9.3" text-anchor="end">80</text>
<line x1="248.80" y1="451.90" x2="251.80" y2="451.90" stroke="#000" stroke-width="1.2"/>
<text x="246.50" y="455.20" font-size="9.3" text-anchor="end">60</text>
<line x1="248.80" y1="472.33" x2="251.80" y2="472.33" stroke="#000" stroke-width="1.2"/>
<text x="246.50" y="475.63" font-size="9.3" text-anchor="end">40</text>
<line x1="248.80" y1="492.77" x2="251.80" y2="492.77" stroke="#000" stroke-width="1.2"/>
<text x="246.50" y="496.07" font-size="9.3" text-anchor="end">20</text>
<line x1="248.80" y1="513.20" x2="251.80" y2="513.20" stroke="#000" stroke-width="1.2"/>
<text x="246.50" y="516.50" font-size="9.3" text-anchor="end">0</text>
<line x1="251.20" y1="513.20" x2="517.00" y2="513.20" stroke="#000" stroke-width="1.2"/>
<line x1="318.00" y1="513.20" x2="318.00" y2="516.20" stroke="#000" stroke-width="1.2"/>
<line x1="451.00" y1="513.20" x2="451.00" y2="516.20" stroke="#000" stroke-width="1.2"/>
<text x="317.30" y="525.00" font-size="9.3" text-anchor="middle">&lt; 2 fold</text>
<text x="450.80" y="524.60" font-size="9.3" text-anchor="middle">&gt; 2 fold</text>
<text x="384.20" y="535.20" font-size="9.3" text-anchor="middle">Relative c-myc Expression</text>
<text x="383.00" y="547.40" font-size="9.3" text-anchor="middle">(GAPDH Normalized)</text>
<circle cx="264.80" cy="362.30" r="3.4" fill="#000"/>
<text x="274.00" y="365.80" font-size="9.3" text-anchor="start">miR-146a</text>
<rect x="262.00" y="371.65" width="5.6" height="5.6" fill="#fff" stroke="#000" stroke-width="1.1"/>
<text x="274.00" y="377.95" font-size="9.3" text-anchor="start">miR-146b</text>
<path d="M264.80 382.80L268.40 389.20L261.20 389.20Z" fill="#000"/>
<text x="274.00" y="390.10" font-size="9.3" text-anchor="start">miR-96</text>
<circle cx="264.80" cy="398.75" r="2.9" fill="#fff" stroke="#000" stroke-width="1.1"/>
<text x="274.00" y="402.25" font-size="9.3" text-anchor="start">miR-182</text>
<rect x="261.60" y="407.70" width="6.4" height="6.4" fill="#000"/>
<text x="274.00" y="414.40" font-size="9.3" text-anchor="start">miR-151-5p</text>
<path d="M264.80 419.85L268.00 425.45L261.60 425.45Z" fill="#fff" stroke="#000" stroke-width="1.1"/>
<text x="274.00" y="426.55" font-size="9.3" text-anchor="start">miR-342-3p</text>
<circle cx="262.60" cy="505.00" r="3.4" fill="#000"/>
<circle cx="268.60" cy="510.20" r="3.4" fill="#000"/>
<circle cx="273.70" cy="508.20" r="3.4" fill="#000"/>
<rect x="280.40" y="508.00" width="5.6" height="5.6" fill="#fff" stroke="#000" stroke-width="1.1"/>
<rect x="285.80" y="508.20" width="5.6" height="5.6" fill="#fff" stroke="#000" stroke-width="1.1"/>
<rect x="291.50" y="508.00" width="5.6" height="5.6" fill="#fff" stroke="#000" stroke-width="1.1"/>
<path d="M302.90 502.70L306.50 509.10L299.30 509.10Z" fill="#000"/>
<path d="M307.60 506.70L311.20 513.10L304.00 513.10Z" fill="#000"/>
<path d="M313.30 506.40L316.90 512.80L309.70 512.80Z" fill="#000"/>
<circle cx="321.90" cy="507.50" r="2.9" fill="#fff" stroke="#000" stroke-width="1.1"/>
<circle cx="328.20" cy="510.80" r="2.9" fill="#fff" stroke="#000" stroke-width="1.1"/>
<circle cx="334.00" cy="509.00" r="2.9" fill="#fff" stroke="#000" stroke-width="1.1"/>
<rect x="339.30" y="505.30" width="6.4" height="6.4" fill="#000"/>
<rect x="345.20" y="507.60" width="6.4" height="6.4" fill="#000"/>
<rect x="350.40" y="507.00" width="6.4" height="6.4" fill="#000"/>
<path d="M362.50 507.60L365.70 513.20L359.30 513.20Z" fill="#fff" stroke="#000" stroke-width="1.1"/>
<path d="M367.70 507.80L370.90 513.40L364.50 513.40Z" fill="#fff" stroke="#000" stroke-width="1.1"/>
<path d="M372.90 507.60L376.10 513.20L369.70 513.20Z" fill="#fff" stroke="#000" stroke-width="1.1"/>
<line x1="265.50" y1="509.30" x2="276.50" y2="509.30" stroke="#000" stroke-width="1.1"/>
<line x1="280.50" y1="510.60" x2="296.50" y2="510.60" stroke="#000" stroke-width="1.1"/>
<line x1="301.50" y1="510.00" x2="316.00" y2="510.00" stroke="#000" stroke-width="1.1"/>
<line x1="319.50" y1="509.40" x2="336.50" y2="509.40" stroke="#000" stroke-width="1.1"/>
<line x1="340.50" y1="509.80" x2="356.00" y2="509.80" stroke="#000" stroke-width="1.1"/>
<line x1="360.00" y1="510.80" x2="375.50" y2="510.80" stroke="#000" stroke-width="1.1"/>
<circle cx="401.60" cy="422.30" r="3.4" fill="#000"/>
<circle cx="401.60" cy="454.50" r="3.4" fill="#000"/>
<circle cx="401.60" cy="492.60" r="3.4" fill="#000"/>
<circle cx="395.40" cy="501.20" r="3.4" fill="#000"/>
<line x1="394.70" y1="468.00" x2="407.50" y2="468.00" stroke="#000" stroke-width="1.1"/>
<rect x="417.90" y="474.90" width="5.6" height="5.6" fill="#fff" stroke="#000" stroke-width="1.1"/>
<rect x="412.70" y="504.30" width="5.6" height="5.6" fill="#fff" stroke="#000" stroke-width="1.1"/>
<rect x="417.90" y="506.00" width="5.6" height="5.6" fill="#fff" stroke="#000" stroke-width="1.1"/>
<rect x="423.70" y="505.30" width="5.6" height="5.6" fill="#fff" stroke="#000" stroke-width="1.1"/>
<line x1="414.40" y1="500.20" x2="428.30" y2="500.20" stroke="#000" stroke-width="1.1"/>
<path d="M441.10 371.10L444.70 377.50L437.50 377.50Z" fill="#000"/>
<path d="M441.10 431.70L444.70 438.10L437.50 438.10Z" fill="#000"/>
<path d="M441.10 454.80L444.70 461.20L437.50 461.20Z" fill="#000"/>
<path d="M441.10 487.70L444.70 494.10L437.50 494.10Z" fill="#000"/>
<line x1="435.20" y1="406.00" x2="447.30" y2="406.00" stroke="#000" stroke-width="1.1"/>
<circle cx="455.30" cy="455.20" r="2.9" fill="#fff" stroke="#000" stroke-width="1.1"/>
<circle cx="466.30" cy="453.50" r="2.9" fill="#fff" stroke="#000" stroke-width="1.1"/>
<circle cx="460.50" cy="475.30" r="2.9" fill="#fff" stroke="#000" stroke-width="1.1"/>
<circle cx="460.50" cy="497.80" r="2.9" fill="#fff" stroke="#000" stroke-width="1.1"/>
<line x1="454.20" y1="470.80" x2="467.40" y2="470.80" stroke="#000" stroke-width="1.1"/>
<rect x="466.60" y="487.60" width="6.4" height="6.4" fill="#000"/>
<rect x="474.60" y="480.70" width="6.4" height="6.4" fill="#000"/>
<rect x="472.50" y="490.10" width="6.4" height="6.4" fill="#000"/>
<rect x="477.00" y="490.10" width="6.4" height="6.4" fill="#000"/>
<line x1="473.30" y1="490.80" x2="487.10" y2="490.80" stroke="#000" stroke-width="1.1"/>
<path d="M489.50 498.70L492.70 504.30L486.30 504.30Z" fill="#fff" stroke="#000" stroke-width="1.1"/>
<path d="M495.10 503.90L498.30 509.50L491.90 509.50Z" fill="#fff" stroke="#000" stroke-width="1.1"/>
<path d="M498.50 497.00L501.70 502.60L495.30 502.60Z" fill="#fff" stroke="#000" stroke-width="1.1"/>
<path d="M501.00 498.80L504.20 504.40L497.80 504.40Z" fill="#fff" stroke="#000" stroke-width="1.1"/>
<line x1="497.50" y1="501.90" x2="507.90" y2="501.90" stroke="#000" stroke-width="1.1"/>
<text x="104.50" y="572.80" font-size="9.3" text-anchor="middle">9-week-old</text>
<rect x="50.50" y="586.60" width="10.60" height="5.20" fill="#fff" stroke="#000" stroke-width="1.2"/>
<rect x="50.50" y="598.00" width="10.60" height="5.20" fill="#767676" stroke="#000" stroke-width="1.2"/>
<text x="65.30" y="592.70" font-size="9.3" text-anchor="start">WT</text>
<text x="65.30" y="604.10" font-size="9.3">tPTEN<tspan font-size="5.5" dy="-3.5">-/-</tspan></text>
<text transform="translate(12.40,672.20) rotate(-90)" font-size="9.3" text-anchor="middle">Relative c-myc Expression</text>
<text transform="translate(24.80,673.00) rotate(-90)" font-size="9.3" text-anchor="middle">(GAPDH Normalized)</text>
<line x1="42.80" y1="609.00" x2="42.80" y2="736.70" stroke="#000" stroke-width="1.2"/>
<line x1="39.80" y1="609.60" x2="42.80" y2="609.60" stroke="#000" stroke-width="1.2"/>
<text x="39.30" y="612.90" font-size="9.3" text-anchor="end">10</text>
<line x1="39.80" y1="634.90" x2="42.80" y2="634.90" stroke="#000" stroke-width="1.2"/>
<text x="37.80" y="638.20" font-size="9.3" text-anchor="end">8</text>
<line x1="39.80" y1="660.20" x2="42.80" y2="660.20" stroke="#000" stroke-width="1.2"/>
<text x="37.80" y="663.50" font-size="9.3" text-anchor="end">6</text>
<line x1="39.80" y1="685.50" x2="42.80" y2="685.50" stroke="#000" stroke-width="1.2"/>
<text x="37.80" y="688.80" font-size="9.3" text-anchor="end">4</text>
<line x1="39.80" y1="710.80" x2="42.80" y2="710.80" stroke="#000" stroke-width="1.2"/>
<text x="37.80" y="714.10" font-size="9.3" text-anchor="end">2</text>
<line x1="39.80" y1="736.10" x2="42.80" y2="736.10" stroke="#000" stroke-width="1.2"/>
<text x="37.80" y="739.40" font-size="9.3" text-anchor="end">0</text>
<line x1="42.20" y1="736.10" x2="162.50" y2="736.10" stroke="#000" stroke-width="1.2"/>
<line x1="54.95" y1="723.60" x2="54.95" y2="720.50" stroke="#000" stroke-width="1.2"/>
<line x1="51.20" y1="720.50" x2="58.70" y2="720.50" stroke="#000" stroke-width="1.2"/>
<rect x="47.00" y="723.60" width="15.90" height="12.50" fill="#fff" stroke="#000" stroke-width="1.2"/>
<line x1="70.55" y1="639.60" x2="70.55" y2="626.10" stroke="#000" stroke-width="1.2"/>
<line x1="66.80" y1="626.10" x2="74.30" y2="626.10" stroke="#000" stroke-width="1.2"/>
<rect x="62.90" y="639.60" width="15.30" height="96.50" fill="#767676" stroke="#000" stroke-width="1.2"/>
<line x1="94.20" y1="687.20" x2="94.20" y2="680.60" stroke="#000" stroke-width="1.2"/>
<line x1="90.45" y1="680.60" x2="97.95" y2="680.60" stroke="#000" stroke-width="1.2"/>
<rect x="86.30" y="687.20" width="15.80" height="48.90" fill="#fff" stroke="#000" stroke-width="1.2"/>
<line x1="110.10" y1="703.10" x2="110.10" y2="688.70" stroke="#000" stroke-width="1.2"/>
<line x1="106.35" y1="688.70" x2="113.85" y2="688.70" stroke="#000" stroke-width="1.2"/>
<rect x="102.10" y="703.10" width="16.00" height="33.00" fill="#767676" stroke="#000" stroke-width="1.2"/>
<line x1="133.95" y1="668.80" x2="133.95" y2="660.30" stroke="#000" stroke-width="1.2"/>
<line x1="130.20" y1="660.30" x2="137.70" y2="660.30" stroke="#000" stroke-width="1.2"/>
<rect x="126.10" y="668.80" width="15.70" height="67.30" fill="#fff" stroke="#000" stroke-width="1.2"/>
<line x1="149.70" y1="672.10" x2="149.70" y2="670.40" stroke="#000" stroke-width="1.2"/>
<line x1="145.95" y1="670.40" x2="153.45" y2="670.40" stroke="#000" stroke-width="1.2"/>
<rect x="141.80" y="672.10" width="15.80" height="64.00" fill="#767676" stroke="#000" stroke-width="1.2"/>
<line x1="53.30" y1="619.20" x2="70.80" y2="619.20" stroke="#111" stroke-width="1.3"/>
<polygon points="57.75,612.50 58.40,614.11 60.13,614.23 58.80,615.34 59.22,617.02 57.75,616.10 56.28,617.02 56.70,615.34 55.37,614.23 57.10,614.11" fill="#111"/>
<polygon points="62.05,612.50 62.70,614.11 64.43,614.23 63.10,615.34 63.52,617.02 62.05,616.10 60.58,617.02 61.00,615.34 59.67,614.23 61.40,614.11" fill="#111"/>
<polygon points="66.35,612.50 67.00,614.11 68.73,614.23 67.40,615.34 67.82,617.02 66.35,616.10 64.88,617.02 65.30,615.34 63.97,614.23 65.70,614.11" fill="#111"/>
<text x="64.10" y="745.20" font-size="9.3" text-anchor="middle">DP</text>
<text x="103.50" y="745.20" font-size="9.3" text-anchor="middle">CD4 SP</text>
<text x="143.00" y="745.20" font-size="9.3" text-anchor="middle">Mature T</text>
<text x="360.50" y="572.00" font-size="9.3" text-anchor="middle">12-week-old</text>
<text transform="translate(212.80,669.50) rotate(-90)" font-size="9.3" text-anchor="middle">Relative miR-146a Expression</text>
<text transform="translate(224.90,669.50) rotate(-90)" font-size="9.3" text-anchor="middle">(miR-16 Normalized)</text>
<line x1="250.90" y1="608.30" x2="250.90" y2="668.70" stroke="#000" stroke-width="1.2"/>
<line x1="250.90" y1="676.80" x2="250.90" y2="736.11" stroke="#000" stroke-width="1.2"/>
<line x1="247.90" y1="608.90" x2="250.90" y2="608.90" stroke="#000" stroke-width="1.2"/>
<line x1="247.90" y1="623.85" x2="250.90" y2="623.85" stroke="#000" stroke-width="1.2"/>
<line x1="247.90" y1="638.80" x2="250.90" y2="638.80" stroke="#000" stroke-width="1.2"/>
<line x1="247.90" y1="653.75" x2="250.90" y2="653.75" stroke="#000" stroke-width="1.2"/>
<line x1="247.90" y1="696.37" x2="250.90" y2="696.37" stroke="#000" stroke-width="1.2"/>
<line x1="247.90" y1="715.94" x2="250.90" y2="715.94" stroke="#000" stroke-width="1.2"/>
<line x1="247.90" y1="735.51" x2="250.90" y2="735.51" stroke="#000" stroke-width="1.2"/>
<line x1="247.90" y1="668.70" x2="252.70" y2="668.70" stroke="#000" stroke-width="1.2"/>
<line x1="247.90" y1="676.80" x2="252.70" y2="676.80" stroke="#000" stroke-width="1.2"/>
<text x="246.80" y="612.20" font-size="9.3" text-anchor="end">500</text>
<text x="246.80" y="627.15" font-size="9.3" text-anchor="end">450</text>
<text x="246.80" y="642.10" font-size="9.3" text-anchor="end">400</text>
<text x="246.80" y="657.05" font-size="9.3" text-anchor="end">350</text>
<text x="246.80" y="672.00" font-size="9.3" text-anchor="end">300</text>
<text x="246.80" y="680.10" font-size="9.3" text-anchor="end">150</text>
<text x="246.80" y="699.67" font-size="9.3" text-anchor="end">100</text>
<text x="246.80" y="719.24" font-size="9.3" text-anchor="end">50</text>
<text x="246.80" y="738.81" font-size="9.3" text-anchor="end">0</text>
<line x1="250.30" y1="735.51" x2="334.00" y2="735.51" stroke="#000" stroke-width="1.2"/>
<rect x="256.30" y="586.60" width="10.60" height="5.20" fill="#fff" stroke="#000" stroke-width="1.2"/>
<rect x="256.30" y="598.00" width="10.60" height="5.20" fill="#767676" stroke="#000" stroke-width="1.2"/>
<text x="271.10" y="592.70" font-size="9.3" text-anchor="start">WT</text>
<text x="271.10" y="604.10" font-size="9.3">tPTEN<tspan font-size="5.5" dy="-3.5">-/-</tspan></text>
<text x="257.60" y="613.90" font-size="9.3" text-anchor="start">(Tumors)</text>
<rect x="255.40" y="734.91" width="16.30" height="0.60" fill="#fff" stroke="#000" stroke-width="1.2"/>
<line x1="279.90" y1="726.90" x2="279.90" y2="724.60" stroke="#000" stroke-width="1.2"/>
<line x1="276.90" y1="724.60" x2="282.90" y2="724.60" stroke="#000" stroke-width="1.2"/>
<rect x="271.70" y="726.90" width="16.40" height="8.61" fill="#767676" stroke="#000" stroke-width="1.2"/>
<line x1="304.45" y1="631.70" x2="304.45" y2="614.40" stroke="#000" stroke-width="1.2"/>
<line x1="300.45" y1="614.40" x2="308.45" y2="614.40" stroke="#000" stroke-width="1.2"/>
<path d="M296.3 735.51V677.4M296.3 668.0V631.7H312.6V668.0M312.6 677.4V735.51" fill="none" stroke="#000" stroke-width="1.2"/>
<line x1="321.00" y1="699.00" x2="321.00" y2="693.40" stroke="#000" stroke-width="1.2"/>
<line x1="317.75" y1="693.40" x2="324.25" y2="693.40" stroke="#000" stroke-width="1.2"/>
<rect x="312.60" y="699.00" width="16.80" height="36.51" fill="#767676" stroke="#000" stroke-width="1.2"/>
<line x1="262.10" y1="718.20" x2="279.40" y2="718.20" stroke="#111" stroke-width="1.3"/>
<polygon points="268.60,711.50 269.25,713.11 270.98,713.23 269.65,714.34 270.07,716.02 268.60,715.10 267.13,716.02 267.55,714.34 266.22,713.23 267.95,713.11" fill="#111"/>
<polygon points="272.90,711.50 273.55,713.11 275.28,713.23 273.95,714.34 274.37,716.02 272.90,715.10 271.43,716.02 271.85,714.34 270.52,713.23 272.25,713.11" fill="#111"/>
<line x1="304.20" y1="607.90" x2="321.90" y2="607.90" stroke="#111" stroke-width="1.3"/>
<polygon points="308.75,601.20 309.40,602.81 311.13,602.93 309.80,604.04 310.22,605.72 308.75,604.80 307.28,605.72 307.70,604.04 306.37,602.93 308.10,602.81" fill="#111"/>
<polygon points="313.05,601.20 313.70,602.81 315.43,602.93 314.10,604.04 314.52,605.72 313.05,604.80 311.58,605.72 312.00,604.04 310.67,602.93 312.40,602.81" fill="#111"/>
<polygon points="317.35,601.20 318.00,602.81 319.73,602.93 318.40,604.04 318.82,605.72 317.35,604.80 315.88,605.72 316.30,604.04 314.97,602.93 316.70,602.81" fill="#111"/>
<text x="273.20" y="744.20" font-size="9.3" text-anchor="middle">DP</text>
<text x="312.10" y="744.20" font-size="9.3" text-anchor="middle">Mature</text>
<text x="311.30" y="755.40" font-size="9.3" text-anchor="middle">CD4</text>
<text transform="translate(383.40,669.50) rotate(-90)" font-size="9.3" text-anchor="middle">Relative miR-146b Expression</text>
<text transform="translate(393.60,669.50) rotate(-90)" font-size="9.3" text-anchor="middle">(miR-16 Normalized)</text>
<line x1="421.10" y1="610.40" x2="421.10" y2="669.20" stroke="#000" stroke-width="1.2"/>
<line x1="421.10" y1="677.50" x2="421.10" y2="735.85" stroke="#000" stroke-width="1.2"/>
<line x1="418.10" y1="611.00" x2="421.10" y2="611.00" stroke="#000" stroke-width="1.2"/>
<line x1="418.10" y1="625.55" x2="421.10" y2="625.55" stroke="#000" stroke-width="1.2"/>
<line x1="418.10" y1="640.10" x2="421.10" y2="640.10" stroke="#000" stroke-width="1.2"/>
<line x1="418.10" y1="654.65" x2="421.10" y2="654.65" stroke="#000" stroke-width="1.2"/>
<line x1="418.10" y1="696.75" x2="421.10" y2="696.75" stroke="#000" stroke-width="1.2"/>
<line x1="418.10" y1="716.00" x2="421.10" y2="716.00" stroke="#000" stroke-width="1.2"/>
<line x1="418.10" y1="735.25" x2="421.10" y2="735.25" stroke="#000" stroke-width="1.2"/>
<line x1="418.10" y1="669.20" x2="422.90" y2="669.20" stroke="#000" stroke-width="1.2"/>
<line x1="418.10" y1="677.50" x2="422.90" y2="677.50" stroke="#000" stroke-width="1.2"/>
<text x="417.00" y="614.30" font-size="9.3" text-anchor="end">500</text>
<text x="417.00" y="628.85" font-size="9.3" text-anchor="end">450</text>
<text x="417.00" y="643.40" font-size="9.3" text-anchor="end">400</text>
<text x="417.00" y="657.95" font-size="9.3" text-anchor="end">350</text>
<text x="417.00" y="672.50" font-size="9.3" text-anchor="end">300</text>
<text x="417.00" y="680.80" font-size="9.3" text-anchor="end">150</text>
<text x="417.00" y="700.05" font-size="9.3" text-anchor="end">100</text>
<text x="417.00" y="719.30" font-size="9.3" text-anchor="end">50</text>
<text x="417.00" y="738.55" font-size="9.3" text-anchor="end">0</text>
<line x1="420.50" y1="735.25" x2="501.50" y2="735.25" stroke="#000" stroke-width="1.2"/>
<rect x="427.00" y="589.60" width="10.60" height="5.20" fill="#fff" stroke="#000" stroke-width="1.2"/>
<rect x="427.00" y="601.10" width="10.60" height="5.20" fill="#767676" stroke="#000" stroke-width="1.2"/>
<text x="441.80" y="595.70" font-size="9.3" text-anchor="start">WT</text>
<text x="441.80" y="607.20" font-size="9.3">tPTEN<tspan font-size="5.5" dy="-3.5">-/-</tspan></text>
<text x="428.80" y="615.20" font-size="9.3" text-anchor="start">(Tumors)</text>
<rect x="425.40" y="734.65" width="16.40" height="0.60" fill="#fff" stroke="#000" stroke-width="1.2"/>
<rect x="441.80" y="732.60" width="16.10" height="2.65" fill="#767676" stroke="#000" stroke-width="1.2"/>
<line x1="474.50" y1="659.90" x2="474.50" y2="652.70" stroke="#000" stroke-width="1.2"/>
<line x1="470.30" y1="652.70" x2="478.70" y2="652.70" stroke="#000" stroke-width="1.2"/>
<path d="M466.4 735.25V678.1M466.4 668.8V659.9H482.6V668.8M482.6 678.1V735.25" fill="none" stroke="#000" stroke-width="1.2"/>
<rect x="482.60" y="727.70" width="16.70" height="7.55" fill="#767676" stroke="#000" stroke-width="1.2"/>
<line x1="432.90" y1="726.90" x2="450.50" y2="726.90" stroke="#111" stroke-width="1.3"/>
<polygon points="437.40,720.20 438.05,721.81 439.78,721.93 438.45,723.04 438.87,724.72 437.40,723.80 435.93,724.72 436.35,723.04 435.02,721.93 436.75,721.81" fill="#111"/>
<polygon points="441.70,720.20 442.35,721.81 444.08,721.93 442.75,723.04 443.17,724.72 441.70,723.80 440.23,724.72 440.65,723.04 439.32,721.93 441.05,721.81" fill="#111"/>
<polygon points="446.00,720.20 446.65,721.81 448.38,721.93 447.05,723.04 447.47,724.72 446.00,723.80 444.53,724.72 444.95,723.04 443.62,721.93 445.35,721.81" fill="#111"/>
<line x1="473.90" y1="646.10" x2="491.90" y2="646.10" stroke="#111" stroke-width="1.3"/>
<polygon points="478.60,639.40 479.25,641.01 480.98,641.13 479.65,642.24 480.07,643.92 478.60,643.00 477.13,643.92 477.55,642.24 476.22,641.13 477.95,641.01" fill="#111"/>
<polygon points="482.90,639.40 483.55,641.01 485.28,641.13 483.95,642.24 484.37,643.92 482.90,643.00 481.43,643.92 481.85,642.24 480.52,641.13 482.25,641.01" fill="#111"/>
<polygon points="487.20,639.40 487.85,641.01 489.58,641.13 488.25,642.24 488.67,643.92 487.20,643.00 485.73,643.92 486.15,642.24 484.82,641.13 486.55,641.01" fill="#111"/>
<text x="442.20" y="744.60" font-size="9.3" text-anchor="middle">DP</text>
<text x="483.20" y="744.60" font-size="9.3" text-anchor="middle">Mature</text>
<text x="483.40" y="755.20" font-size="9.3" text-anchor="middle">CD4</text>
</svg>
</body></html>
